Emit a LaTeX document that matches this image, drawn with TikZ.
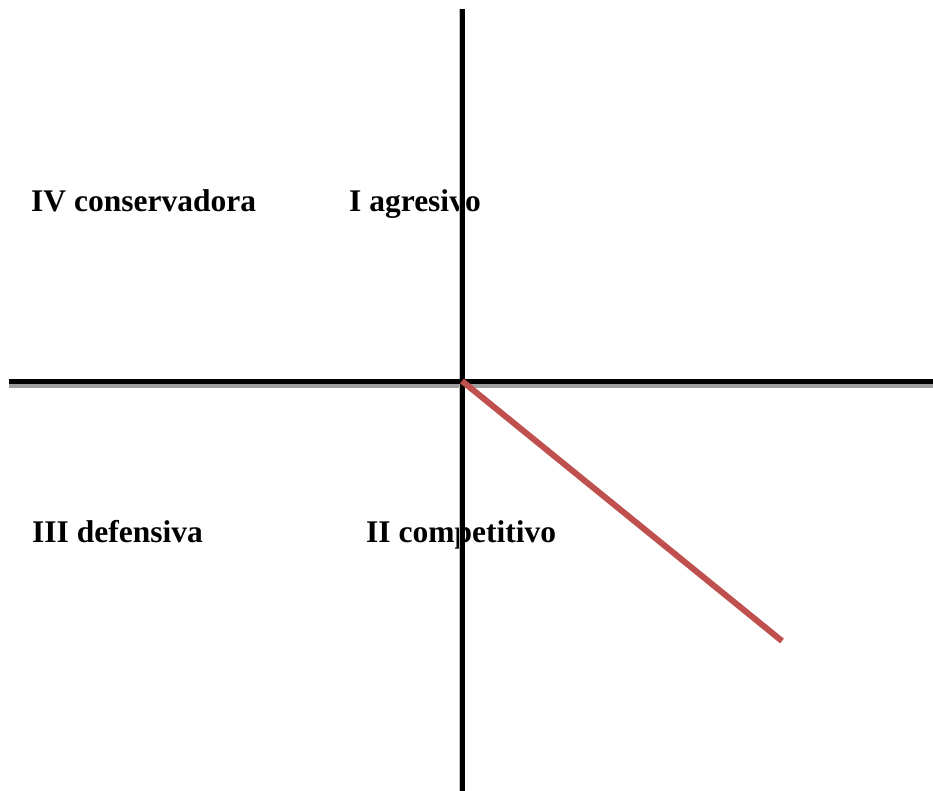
\documentclass[tikz,border=0pt]{standalone}
\usepackage{fontspec}
\setmainfont{Liberation Serif}
\begin{document}
\begin{tikzpicture}[x=1pt,y=-1pt,
  lbl/.style={anchor=base west,inner sep=0pt,font=\fontsize{31.5}{36}\selectfont\bfseries},
  axis/.style={line width=5.5pt,black},
  shade/.style={line width=4pt,color=black!38},
  redline/.style={line width=6pt,color=red!45!black!30!red}]
\useasboundingbox[fill=white] (0,0) rectangle (933,791);
\coordinate (hl) at (9,381.5);
\coordinate (hr) at (933,381.5);
\coordinate (vt) at (462.5,9);
\coordinate (vb) at (462.5,791);
\coordinate (o) at (462,381);
\coordinate (e) at (782,641);
\definecolor{axred}{HTML}{C0504D}
\node[lbl] (iv) at (31,211.5) {IV conservadora};
\node[lbl] (i) at (349,211.5) {I agresivo};
\node[lbl] (iii) at (32,542.5) {III defensiva};
\node[lbl] (ii) at (366,542.5) {II competitivo};
\draw[shade] (9,386) -- (933,386);
\draw[line width=1pt,black!25] (459.5,9) -- (459.5,791);
\draw[axis] (hl) -- (hr);
\draw[line width=5pt] (vt) -- (vb);
\draw[line width=6pt,color=axred] (o) -- (e);
\end{tikzpicture}
\end{document}
